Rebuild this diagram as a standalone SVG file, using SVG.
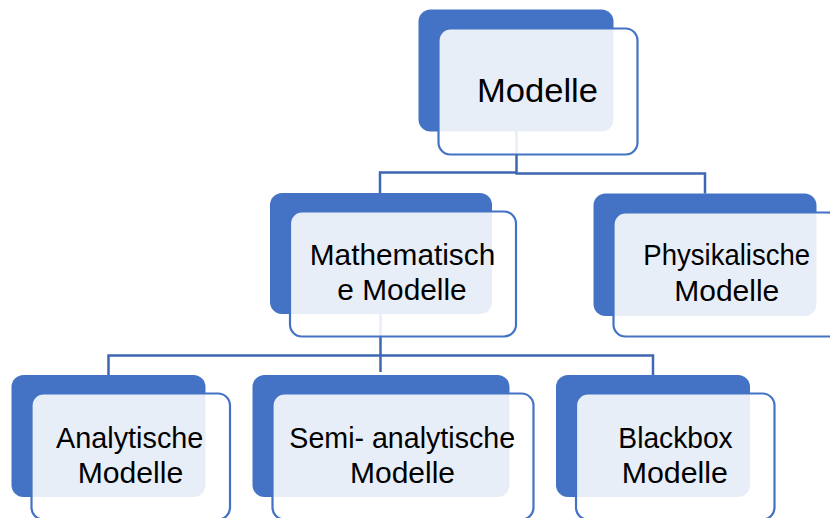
<svg xmlns="http://www.w3.org/2000/svg" width="830" height="518" viewBox="0 0 830 518">
  <style>
    .back { fill: #4472C4; }
    .front { fill: #FFFFFF; fill-opacity: 0.88; stroke: #4472C4; stroke-width: 2.2; }
    .conn { fill: none; stroke: #3E67B2; stroke-width: 2.5; }
    .lbl { font-family: "Liberation Sans", Arial, sans-serif; font-size: 29px; fill: #000000; text-anchor: middle; }
    .lbl-top { font-size: 34px; }
  </style>
  <rect width="830" height="518" fill="#FFFFFF"/>
  <g id="connectors">
    <path class="conn" d="M516.5,131 V172.5 H380 V193"/>
    <path class="conn" d="M516.5,172.5 V173.5 H705 V193.5"/>
    <path class="conn" d="M380.5,314 V372"/>
    <path class="conn" d="M108.5,375 V355.5 H653 V375"/>
  </g>
  <g id="node-modelle">
    <rect class="back" x="418.5" y="9.5" width="195" height="122" rx="12"/>
    <rect class="front" x="438.5" y="28.5" width="199" height="126" rx="12"/>
    <text class="lbl lbl-top" x="537.5" y="101.5" textLength="121" lengthAdjust="spacingAndGlyphs">Modelle</text>
  </g>
  <g id="node-mathematische">
    <rect class="back" x="270" y="193" width="222" height="121" rx="12"/>
    <rect class="front" x="290" y="211.5" width="226" height="125" rx="12"/>
    <text class="lbl" x="402.5" y="265" textLength="185.5" lengthAdjust="spacingAndGlyphs">Mathematisch</text>
    <text class="lbl" x="402" y="300" textLength="129.3" lengthAdjust="spacingAndGlyphs">e Modelle</text>
  </g>
  <g id="node-physikalische">
    <rect class="back" x="593.5" y="193.5" width="223" height="122.5" rx="12"/>
    <rect class="front" x="613.5" y="212.5" width="226" height="124" rx="12"/>
    <text class="lbl" x="726.7" y="265" textLength="166.7" lengthAdjust="spacingAndGlyphs">Physikalische</text>
    <text class="lbl" x="726.8" y="300.5" textLength="105" lengthAdjust="spacingAndGlyphs">Modelle</text>
  </g>
  <g id="node-analytische">
    <rect class="back" x="11.5" y="375" width="194" height="122" rx="12"/>
    <rect class="front" x="31.5" y="393.5" width="198.5" height="126" rx="12"/>
    <text class="lbl" x="129.7" y="448" textLength="147.3" lengthAdjust="spacingAndGlyphs">Analytische</text>
    <text class="lbl" x="130.5" y="483" textLength="105.6" lengthAdjust="spacingAndGlyphs">Modelle</text>
  </g>
  <g id="node-semi-analytische">
    <rect class="back" x="252.5" y="375" width="257" height="122" rx="12"/>
    <rect class="front" x="272.5" y="393.5" width="261" height="126" rx="12"/>
    <text class="lbl" x="402.2" y="448" textLength="225.7" lengthAdjust="spacingAndGlyphs">Semi- analytische</text>
    <text class="lbl" x="402.5" y="483" textLength="105" lengthAdjust="spacingAndGlyphs">Modelle</text>
  </g>
  <g id="node-blackbox">
    <rect class="back" x="556" y="375" width="194" height="122" rx="12"/>
    <rect class="front" x="576" y="393.5" width="198.5" height="126" rx="12"/>
    <text class="lbl" x="675.5" y="448" textLength="114.3" lengthAdjust="spacingAndGlyphs">Blackbox</text>
    <text class="lbl" x="674.8" y="483" textLength="106.3" lengthAdjust="spacingAndGlyphs">Modelle</text>
  </g>
</svg>
